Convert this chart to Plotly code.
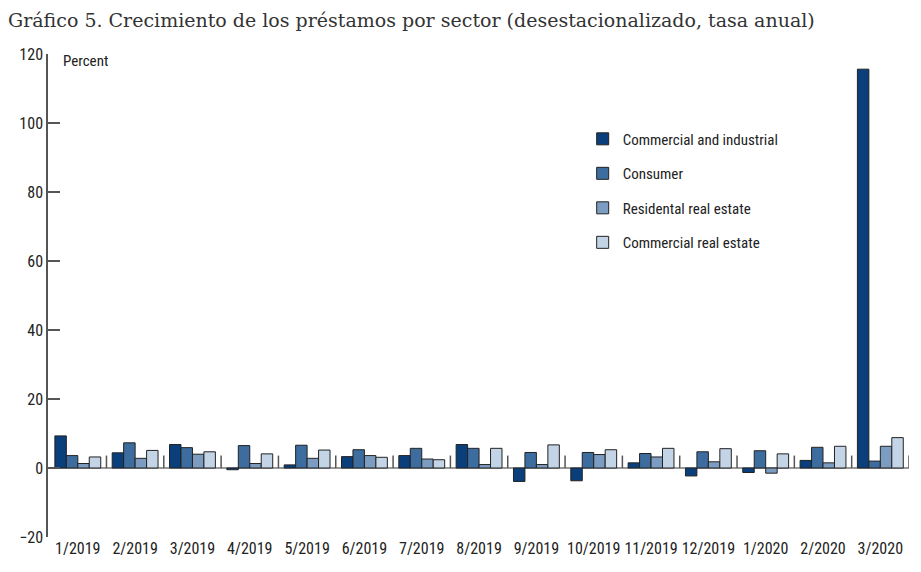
import plotly.graph_objects as go

categories = ["1/2019", "2/2019", "3/2019", "4/2019", "5/2019", "6/2019", "7/2019", "8/2019",
              "9/2019", "10/2019", "11/2019", "12/2019", "1/2020", "2/2020", "3/2020"]
commercial_industrial = [9.3, 4.4, 6.8, -0.5, 0.9, 3.3, 3.6, 6.8, -3.9, -3.7, 1.5, -2.3, -1.3, 2.2, 115.6]
consumer = [3.6, 7.3, 5.9, 6.5, 6.6, 5.3, 5.7, 5.7, 4.5, 4.5, 4.2, 4.7, 5.0, 6.0, 2.0]
residential_re = [1.3, 2.8, 4.0, 1.3, 2.8, 3.6, 2.6, 1.0, 1.0, 3.9, 3.2, 1.8, -1.5, 1.5, 6.3]
commercial_re = [3.2, 5.1, 4.7, 4.1, 5.2, 3.1, 2.4, 5.7, 6.7, 5.3, 5.7, 5.6, 4.1, 6.3, 8.8]

series = [
    ("Commercial and industrial", commercial_industrial, "#0b3f7c"),
    ("Consumer", consumer, "#3d6d9e"),
    ("Residental real estate", residential_re, "#7c9dc1"),
    ("Commercial real estate", commercial_re, "#c3d4e6"),
]

NARROW = "Liberation Sans Narrow, Arial Narrow, Roboto Condensed, sans-serif"

fig = go.Figure()
for i, (name, vals, col) in enumerate(series):
    fig.add_trace(go.Bar(
        x=list(range(len(categories))), y=vals, name=name,
        marker=dict(color=col, line=dict(color="#222222", width=1)),
        legendgroup=f"g{i}",
    ))

# zero line and small separators between category groups
shapes = [dict(type="line", xref="paper", yref="y", x0=0, x1=1, y0=0, y1=0,
               line=dict(color="#777777", width=1.5), layer="below")]
for k in range(len(categories)):
    shapes.append(dict(type="line", xref="x", yref="y", x0=k + 0.5, x1=k + 0.5, y0=0, y1=3.6,
                       line=dict(color="#555555", width=1.5), layer="below"))

fig.update_layout(
    width=913, height=564,
    margin=dict(l=40, r=12, t=46, b=35),
    paper_bgcolor="white", plot_bgcolor="white",
    barmode="group", bargap=0.2, bargroupgap=0,
    showlegend=True,
    legend=dict(x=0.621, y=0.858, xanchor="left", yanchor="top",
                font=dict(family=NARROW, size=15, color="#222222"),
                tracegroupgap=12, bgcolor="rgba(0,0,0,0)"),
    shapes=shapes,
    title=dict(text="Gráfico 5. Crecimiento de los préstamos por sector (desestacionalizado, tasa anual)",
               x=0.0, xanchor="left", y=0.978, yanchor="middle",
               font=dict(family="DejaVu Serif", size=19, color="#333333")),
    xaxis=dict(range=[-0.52, 14.5], tickvals=list(range(len(categories))), ticktext=categories,
               showgrid=False, zeroline=False, showline=False, ticks="",
               tickfont=dict(family=NARROW, size=16, color="#222222")),
    yaxis=dict(range=[-20, 120], dtick=20, showgrid=False, zeroline=False,
               showline=True, linecolor="#555555", linewidth=1.5,
               ticks="inside", ticklen=12, tickcolor="#555555", tickwidth=1.5,
               tickfont=dict(family=NARROW, size=16, color="#222222")),
    annotations=[dict(text="Percent", xref="paper", yref="paper", x=0.015, y=0.985,
                      xanchor="left", yanchor="middle", showarrow=False,
                      font=dict(family=NARROW, size=15, color="#222222"))],
)

fig.write_html("out.html")
